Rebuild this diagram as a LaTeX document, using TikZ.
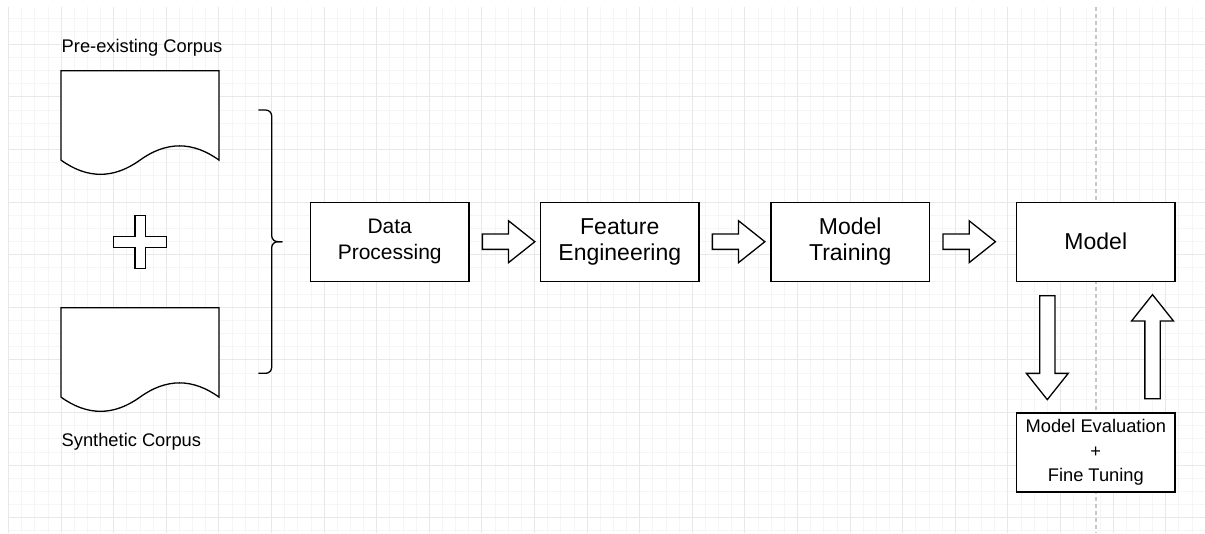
\documentclass[tikz,border=0pt]{standalone}
\usepackage{fontspec}
\setmainfont{Liberation Sans}
\usetikzlibrary{shapes.arrows}

\begin{document}
\begin{tikzpicture}[
    x=1pt, y=-1pt,
    stage/.style={rectangle, draw, fill=white, line width=1.3pt, minimum width=158.5pt, minimum height=79pt, align=center, font=\fontsize{23}{26}\selectfont},
    flow/.style={single arrow, draw, fill=white, line width=1.3pt, inner xsep=0pt, inner ysep=7pt, single arrow head extend=13.25pt, single arrow tip angle=77, minimum height=52.5pt, anchor=tail},
    corpustext/.style={anchor=base west, inner sep=0pt, font=\fontsize{18.3}{22}\selectfont},
    minorline/.style={black!4, line width=0.7pt},
    majorline/.style={black!9, line width=0.9pt},
    corpus/.pic={
        \draw[fill=white, line width=1.3pt] (0,0) -- (158,0) -- (158,89.4)
            .. controls (131.67,70.44) and (105.33,70.44) .. (79,89.4)
            .. controls (52.67,108.36) and (26.33,108.36) .. (0,89.4) -- cycle;
    }
]
    \useasboundingbox (0,0) rectangle (1205,533);
    \fill[white] (0,0) rectangle (1205,533);

    % Background grid
    \foreach \i in {0,...,91}
        \draw[minorline] ({8.4+13.15*\i},6.7) -- ({8.4+13.15*\i},533);
    \foreach \j in {1,...,40}
        \draw[minorline] (8.4,{4.75+13.15*\j}) -- (1205,{4.75+13.15*\j});
    \foreach \i in {0,4,...,88}
        \draw[majorline] ({8.4+13.15*\i},6.7) -- ({8.4+13.15*\i},533);
    \foreach \j in {3,7,...,39}
        \draw[majorline] (8.4,{4.75+13.15*\j}) -- (1205,{4.75+13.15*\j});
    \draw[black!22, line width=1.3pt, dash pattern=on 4pt off 3pt] (1096,6.7) -- (1096,533);

    % Corpora
    \node[corpustext] (precap) at (61.5,52.7) {Pre-existing Corpus};
    \pic (pre) at (61,70.7) {corpus};
    \pic (syn) at (61,307.7) {corpus};
    \node[corpustext] (syncap) at (61.5,446.7) {Synthetic Corpus};

    % Plus sign
    \draw[fill=white, line width=1.3pt] (135,215.7) -- (145.3,215.7) -- (145.3,236.7) -- (166.7,236.7)
        -- (166.7,247.3) -- (145.3,247.3) -- (145.3,268.3) -- (135,268.3) -- (135,247.3)
        -- (113.3,247.3) -- (113.3,236.7) -- (135,236.7) -- cycle;

    % Brace
    \draw[line width=1.3pt, rounded corners=6pt] (258.3,110) -- (271.7,110) -- (271.7,241.7) -- (282.3,241.7);
    \draw[line width=1.3pt, rounded corners=6pt] (258.3,373.3) -- (271.7,373.3) -- (271.7,241.7) -- (282.3,241.7);

    % Pipeline stages
    \node[stage, font=\fontsize{21}{25.7}\selectfont] (proc) at (389.7,241.7) {Data\\Processing};
    \node[stage] (feat) at (619.8,241.7) {Feature\\Engineering};
    \node[stage] (train) at (850.2,241.7) {Model\\Training};
    \node[stage] (model) at (1095.8,241.7) {Model};
    \node[stage, font=\fontsize{18.3}{24.8}\selectfont] (eval) at (1095.8,452.4) {Model Evaluation\\+\\Fine Tuning};

    % Flow arrows
    \node[flow] (go1) at (481.7,241.7) {};
    \node[flow] (go2) at (711.7,241.7) {};
    \node[flow] (go3) at (942.3,241.7) {};
    \node[flow, minimum height=104pt, rotate=-90] (down) at (1047.3,295) {};
    \node[flow, minimum height=104pt, rotate=90] (up) at (1152.5,399.3) {};
\end{tikzpicture}
\end{document}
